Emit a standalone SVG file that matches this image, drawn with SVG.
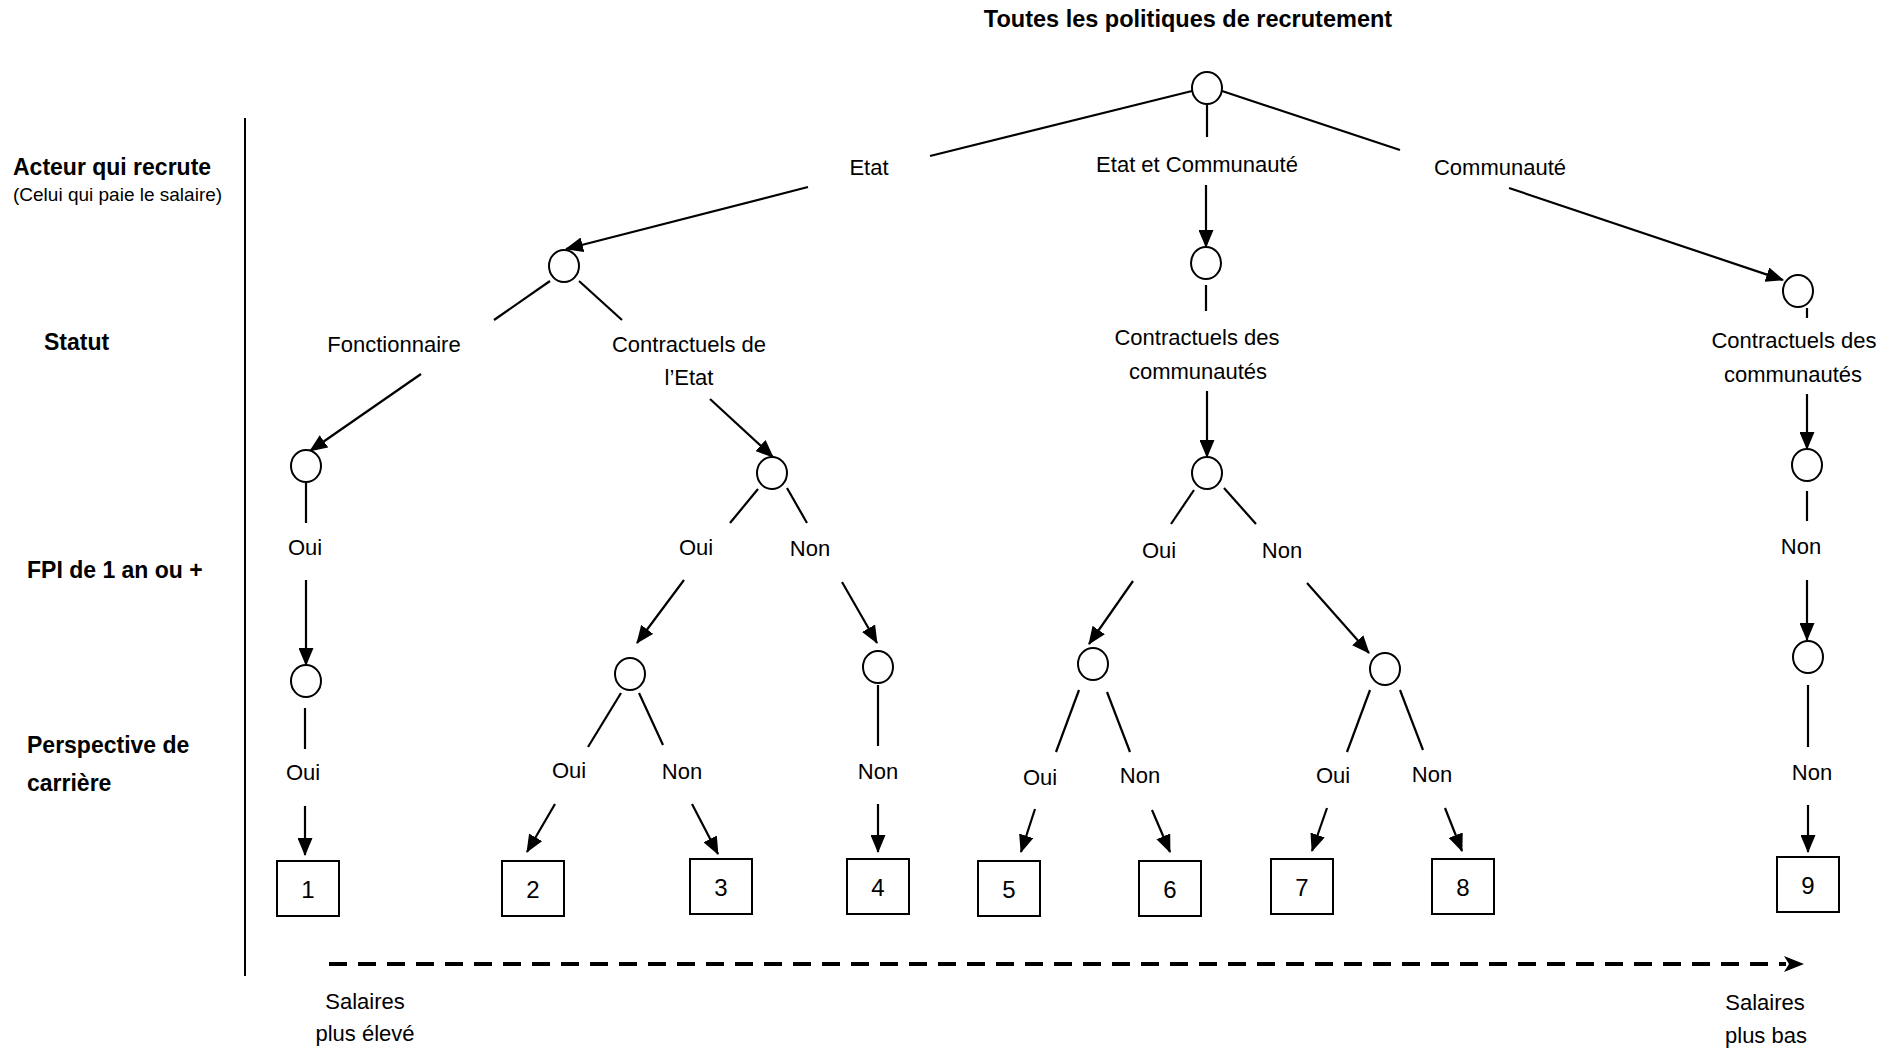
<svg xmlns="http://www.w3.org/2000/svg" width="1892" height="1050" viewBox="0 0 1892 1050">
<defs>
<style>
text{font-family:"Liberation Sans",Arial,sans-serif;fill:#000}
.t{font-size:22px;text-anchor:middle}
.h{font-size:23px;font-weight:bold}
.s{font-size:19px}
.n{font-size:24px;text-anchor:middle}
ellipse,rect{fill:#fff;stroke:#000;stroke-width:2}
#connectors line{stroke:#000;stroke-width:2.2;fill:none}
#connectors line.a{marker-end:url(#arr)}
#connectors line.d{stroke-width:4;stroke-dasharray:18 11;marker-end:url(#arr2)}
</style>
<marker id="arr" markerUnits="userSpaceOnUse" markerWidth="18" markerHeight="15" refX="17" refY="7.5" orient="auto">
<path d="M0,0 L18,7.5 L0,15 z" fill="#000"/>
</marker>
<marker id="arr2" markerUnits="userSpaceOnUse" markerWidth="20" markerHeight="18" refX="2" refY="9" orient="auto">
<path d="M0,1 L20,9 L0,17 L5,9 z" fill="#000"/>
</marker>
</defs>
<rect x="0" y="0" width="1892" height="1050" style="fill:#fff;stroke:none"/>

<g id="title"><text class="h" x="1188" y="27" text-anchor="middle" style="font-size:23.5px">Toutes les politiques de recrutement</text></g>

<g id="axis-labels">
<text class="h" x="13" y="175">Acteur qui recrute</text>
<text class="s" x="13" y="201">(Celui qui paie le salaire)</text>
<text class="h" x="44" y="350">Statut</text>
<text class="h" x="27" y="578">FPI de 1 an ou +</text>
<text class="h" x="27" y="753">Perspective de</text>
<text class="h" x="27" y="791">carrière</text>
<line x1="245" y1="118" x2="245" y2="976" stroke="#000" stroke-width="2"/>
</g>

<g id="connectors">
<line x1="1192" y1="91" x2="930" y2="156"/>
<line x1="1207" y1="104" x2="1207" y2="137"/>
<line x1="1222" y1="91" x2="1400" y2="150"/>
<line class="a" x1="808" y1="187" x2="566" y2="249"/>
<line class="a" x1="1206" y1="185" x2="1206" y2="247"/>
<line class="a" x1="1509" y1="188" x2="1783" y2="280"/>
<line x1="1206" y1="285" x2="1206" y2="311"/>
<line x1="1807" y1="308" x2="1807" y2="318"/>
<line x1="550" y1="281" x2="494" y2="320"/>
<line x1="579" y1="281" x2="622" y2="320"/>
<line class="a" x1="421" y1="374" x2="310" y2="451"/>
<line class="a" x1="710" y1="399" x2="773" y2="457"/>
<line class="a" x1="1207" y1="391" x2="1207" y2="457"/>
<line class="a" x1="1807" y1="394" x2="1807" y2="449"/>
<line x1="306" y1="483" x2="306" y2="523"/>
<line class="a" x1="306" y1="580" x2="306" y2="665"/>
<line x1="758" y1="489" x2="730" y2="523"/>
<line x1="787" y1="488" x2="807" y2="523"/>
<line class="a" x1="684" y1="580" x2="637" y2="643"/>
<line class="a" x1="842" y1="582" x2="877" y2="643"/>
<line x1="1194" y1="490" x2="1171" y2="524"/>
<line x1="1224" y1="488" x2="1256" y2="524"/>
<line class="a" x1="1133" y1="581" x2="1089" y2="644"/>
<line class="a" x1="1307" y1="583" x2="1369" y2="653"/>
<line x1="1807" y1="491" x2="1807" y2="521"/>
<line class="a" x1="1807" y1="580" x2="1807" y2="640"/>
<line x1="305" y1="708" x2="305" y2="749"/>
<line class="a" x1="305" y1="806" x2="305" y2="855"/>
<line x1="621" y1="693" x2="588" y2="747"/>
<line x1="639" y1="693" x2="663" y2="745"/>
<line class="a" x1="555" y1="804" x2="527" y2="852"/>
<line class="a" x1="692" y1="804" x2="718" y2="854"/>
<line x1="878" y1="685" x2="878" y2="746"/>
<line class="a" x1="878" y1="804" x2="878" y2="852"/>
<line x1="1079" y1="690" x2="1056" y2="752"/>
<line x1="1107" y1="692" x2="1130" y2="752"/>
<line class="a" x1="1035" y1="809" x2="1021" y2="852"/>
<line class="a" x1="1152" y1="810" x2="1170" y2="852"/>
<line x1="1370" y1="690" x2="1347" y2="752"/>
<line x1="1400" y1="690" x2="1423" y2="750"/>
<line class="a" x1="1327" y1="808" x2="1312" y2="851"/>
<line class="a" x1="1445" y1="808" x2="1462" y2="851"/>
<line x1="1808" y1="685" x2="1808" y2="747"/>
<line class="a" x1="1808" y1="805" x2="1808" y2="852"/>
<line class="d" x1="329" y1="964" x2="1786" y2="964"/>
</g>

<g id="n-root"><ellipse cx="1207" cy="88" rx="15" ry="16"/></g>
<g id="n-etat"><ellipse cx="564" cy="266" rx="15" ry="16"/></g>
<g id="n-etatcom"><ellipse cx="1206" cy="263" rx="15" ry="16"/></g>
<g id="n-com"><ellipse cx="1798" cy="291" rx="15" ry="16"/></g>
<g id="n-fonct"><ellipse cx="306" cy="466" rx="15" ry="16"/></g>
<g id="n-contetat"><ellipse cx="772" cy="473" rx="15" ry="16"/></g>
<g id="n-contcom1"><ellipse cx="1207" cy="473" rx="15" ry="16"/></g>
<g id="n-contcom2"><ellipse cx="1807" cy="465" rx="15" ry="16"/></g>
<g id="n-fpi1"><ellipse cx="306" cy="681" rx="15" ry="16"/></g>
<g id="n-fpi2"><ellipse cx="630" cy="674" rx="15" ry="16"/></g>
<g id="n-fpi3"><ellipse cx="878" cy="667" rx="15" ry="16"/></g>
<g id="n-fpi4"><ellipse cx="1093" cy="664" rx="15" ry="16"/></g>
<g id="n-fpi5"><ellipse cx="1385" cy="669" rx="15" ry="16"/></g>
<g id="n-fpi6"><ellipse cx="1808" cy="657" rx="15" ry="16"/></g>

<g id="labels">
<text class="t" x="869" y="175">Etat</text>
<text class="t" x="1197" y="172">Etat et Communauté</text>
<text class="t" x="1500" y="175">Communauté</text>
<text class="t" x="394" y="352">Fonctionnaire</text>
<text class="t" x="689" y="352">Contractuels de</text>
<text class="t" x="689" y="385">l’Etat</text>
<text class="t" x="1197" y="345">Contractuels des</text>
<text class="t" x="1198" y="379">communautés</text>
<text class="t" x="1794" y="348">Contractuels des</text>
<text class="t" x="1793" y="382">communautés</text>
<text class="t" x="305" y="555">Oui</text>
<text class="t" x="696" y="555">Oui</text>
<text class="t" x="810" y="556">Non</text>
<text class="t" x="1159" y="558">Oui</text>
<text class="t" x="1282" y="558">Non</text>
<text class="t" x="1801" y="554">Non</text>
<text class="t" x="303" y="780">Oui</text>
<text class="t" x="569" y="778">Oui</text>
<text class="t" x="682" y="779">Non</text>
<text class="t" x="878" y="779">Non</text>
<text class="t" x="1040" y="785">Oui</text>
<text class="t" x="1140" y="783">Non</text>
<text class="t" x="1333" y="783">Oui</text>
<text class="t" x="1432" y="782">Non</text>
<text class="t" x="1812" y="780">Non</text>
<text class="t" x="365" y="1009">Salaires</text>
<text class="t" x="365" y="1041">plus élevé</text>
<text class="t" x="1765" y="1010">Salaires</text>
<text class="t" x="1766" y="1043">plus bas</text>
</g>

<g id="r1"><rect x="277" y="861" width="62" height="55"/><text class="n" x="308" y="898">1</text></g>
<g id="r2"><rect x="502" y="861" width="62" height="55"/><text class="n" x="533" y="898">2</text></g>
<g id="r3"><rect x="690" y="859" width="62" height="55"/><text class="n" x="721" y="896">3</text></g>
<g id="r4"><rect x="847" y="859" width="62" height="55"/><text class="n" x="878" y="896">4</text></g>
<g id="r5"><rect x="978" y="861" width="62" height="55"/><text class="n" x="1009" y="898">5</text></g>
<g id="r6"><rect x="1139" y="861" width="62" height="55"/><text class="n" x="1170" y="898">6</text></g>
<g id="r7"><rect x="1271" y="859" width="62" height="55"/><text class="n" x="1302" y="896">7</text></g>
<g id="r8"><rect x="1432" y="859" width="62" height="55"/><text class="n" x="1463" y="896">8</text></g>
<g id="r9"><rect x="1777" y="857" width="62" height="55"/><text class="n" x="1808" y="894">9</text></g>
</svg>
